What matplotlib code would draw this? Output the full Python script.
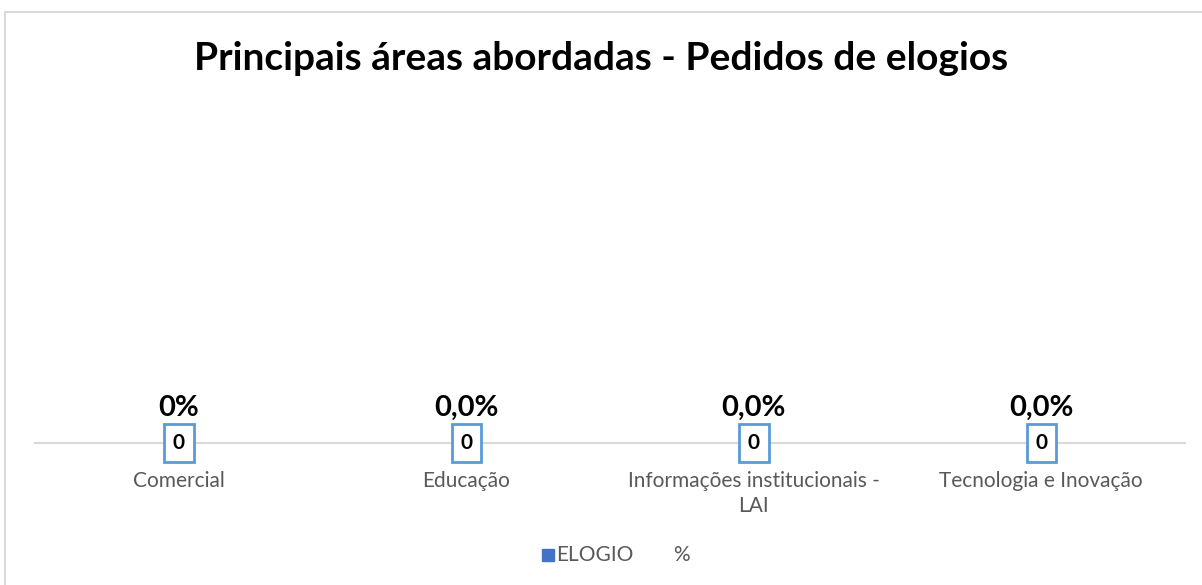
import matplotlib.pyplot as plt
from matplotlib.patches import Rectangle

plt.rcParams['font.family'] = ['Lato', 'DejaVu Sans']

categorias = ["Comercial", "Educação", "Informações institucionais -\nLAI", "Tecnologia e Inovação"]
elogios = [0, 0, 0, 0]
percentuais = ["0%", "0,0%", "0,0%", "0,0%"]

fig = plt.figure(figsize=(12.02, 5.85), dpi=100)
W, H = 1202, 585

# chart border (cut by the image edge on right and bottom)
fig.patches.append(Rectangle((5 / W, -0.1), 1.2, 1 - 12 / H + 0.1, transform=fig.transFigure,
                             fill=False, edgecolor='#D9D9D9', lw=1.5))

ax = fig.add_axes([35 / W, 1 - 443 / H, 1150 / W, (443 - 110) / H])
x = list(range(len(categorias)))
ax.bar(x, elogios, width=0.6, color='#4472C4')
ax.set_xlim(-0.5, len(categorias) - 0.5)
ax.set_ylim(0, 1)

for s in ['top', 'right', 'left']:
    ax.spines[s].set_visible(False)
ax.spines['bottom'].set_color('#D9D9D9')
ax.spines['bottom'].set_linewidth(1.5)
ax.set_yticks([])
ax.set_xticks(x)
ax.set_xticklabels(categorias, fontsize=15, color='#595959', linespacing=1.35)
ax.tick_params(axis='x', length=0, pad=20)

for i in x:
    ax.annotate(percentuais[i], (i, elogios[i]), xytext=(0, 25), textcoords='offset points',
                ha='center', va='center', fontsize=21, fontweight='bold', color='black')
    ax.annotate(str(elogios[i]), (i, elogios[i]), xytext=(0, 0), textcoords='offset points',
                ha='center', va='center', fontsize=15, fontweight='bold', color='black',
                bbox=dict(boxstyle='square,pad=0.42', fc='white', ec='#5B9BD5', lw=2))

fig.text(0.5, 1 - 58 / H, "Principais áreas abordadas - Pedidos de elogios", ha='center', va='center',
         fontsize=28, fontweight='bold', color='black')

# legend
fig.patches.append(Rectangle((542 / W, 1 - 561 / H), 12 / W, 12 / H, transform=fig.transFigure,
                             color='#4472C4'))
fig.text(556 / W, 1 - 555 / H, "ELOGIO", ha='left', va='center', fontsize=15, color='#595959')
fig.text(673 / W, 1 - 555 / H, "%", ha='left', va='center', fontsize=15, color='#595959')

fig.savefig("out.png", dpi=100)
